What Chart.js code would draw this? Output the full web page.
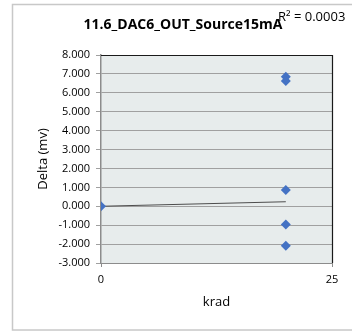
<!DOCTYPE html>
<html>
<head>
<meta charset="utf-8">
<script src="https://cdn.jsdelivr.net/npm/chart.js@4"></script>
<style>
  html, body { margin: 0; padding: 0; background: #ffffff; }
  #zone { width: 352px; height: 333px; position: relative; }
</style>
</head>
<body>
<div id="zone"><canvas id="graphique"></canvas></div>
<script>
// Valeurs
const kradValues  = [0, 20, 20, 20, 20, 20];
const deltaValues = [0, 6.85, 6.62, 0.86, -0.96, -2.09];

// Courbe de tendance (extrémités)
const trendX = [0, 20];
const trendY = [0, 0.24];

const titreGraphique = '11.6_DAC6_OUT_Source15mA';
const texteR2        = 'R² = 0.0003';
const policeTexte    = '"Open Sans", "Noto Sans", sans-serif';

// Cadre gris extérieur, fond et bordure de la zone de tracé, titre et R²
const decor = {
    id : 'decor',
    beforeDraw(chart) {
        const ctx  = chart.ctx;
        const zone = chart.chartArea;
        ctx.save();
        ctx.fillStyle = '#ffffff';
        ctx.fillRect(0, 0, chart.width, chart.height);
        ctx.strokeStyle = '#c8c8c8';
        ctx.lineWidth = 1.5;
        ctx.strokeRect(12.5, 4.5, 400, 325.5);
        ctx.fillStyle = '#e7ecec';
        ctx.fillRect(zone.left, zone.top, zone.right - zone.left, zone.bottom - zone.top);
        ctx.restore();
    },
    afterDraw(chart) {
        const ctx  = chart.ctx;
        const zone = chart.chartArea;
        ctx.save();
        ctx.strokeStyle = '#1a1a1a';
        ctx.lineWidth = 1.2;
        ctx.beginPath();
        ctx.moveTo(zone.left, zone.top + 0.5);
        ctx.lineTo(zone.right + 0.5, zone.top + 0.5);
        ctx.lineTo(zone.right + 0.5, zone.bottom);
        ctx.stroke();

        ctx.fillStyle = '#000000';
        ctx.textBaseline = 'middle';
        ctx.textAlign = 'center';
        ctx.font = 'bold 14px ' + policeTexte;
        ctx.fillText(titreGraphique, 183, 25);
        ctx.textAlign = 'left';
        ctx.font = '13px ' + policeTexte;
        ctx.fillText(texteR2, 278, 17);
        ctx.restore();
    }
};

new Chart(document.getElementById('graphique'), {
    type : 'scatter',
    data : {
        datasets : [
            {
                label           : 'Delta',
                data            : kradValues.map((x, i) => ({ x : x, y : deltaValues[i] })),
                pointStyle      : 'rectRot',
                pointRadius     : 5,
                backgroundColor : '#4472c4',
                borderColor     : '#4472c4',
                borderWidth     : 0,
                order           : 1
            },
            {
                type        : 'line',
                label       : 'Tendance',
                data        : trendX.map((x, i) => ({ x : x, y : trendY[i] })),
                borderColor : '#4d4d4d',
                borderWidth : 1,
                pointRadius : 0,
                fill        : false,
                order       : 2
            }
        ]
    },
    options : {
        responsive          : true,
        maintainAspectRatio : false,
        animation           : false,
        layout : { padding : { top : 55, right : 20, bottom : 0, left : 0 } },
        plugins : {
            legend  : { display : false },
            tooltip : { enabled : false }
        },
        scales : {
            x : {
                type : 'linear',
                min  : 0,
                max  : 25,
                afterFit(scale) { scale.height = 70; },
                ticks : {
                    stepSize : 25,
                    padding  : 6,
                    color    : '#000000',
                    font     : { family : policeTexte, size : 11 }
                },
                grid : {
                    drawOnChartArea : false,
                    tickLength      : 4,
                    color           : '#8c8c8c'
                },
                border : { color : '#8c8c8c', width : 1 },
                title : {
                    display : true,
                    text    : 'krad',
                    color   : '#000000',
                    font    : { family : policeTexte, size : 13 },
                    padding : { top : 0, bottom : 23 }
                }
            },
            y : {
                min : -3,
                max : 8,
                afterFit(scale) { scale.width = 101; },
                ticks : {
                    stepSize : 1,
                    padding  : 6,
                    color    : '#000000',
                    font     : { family : policeTexte, size : 11 },
                    callback : v => v.toFixed(3)
                },
                grid : {
                    color      : '#a0a0a0',
                    lineWidth  : 1,
                    tickLength : 5
                },
                border : { color : '#8c8c8c', width : 1.5 },
                title : {
                    display : true,
                    text    : 'Delta (mv)',
                    color   : '#000000',
                    font    : { family : policeTexte, size : 13 },
                    padding : { top : 35, bottom : 0 }
                }
            }
        }
    },
    plugins : [decor]
});
</script>
</body>
</html>
